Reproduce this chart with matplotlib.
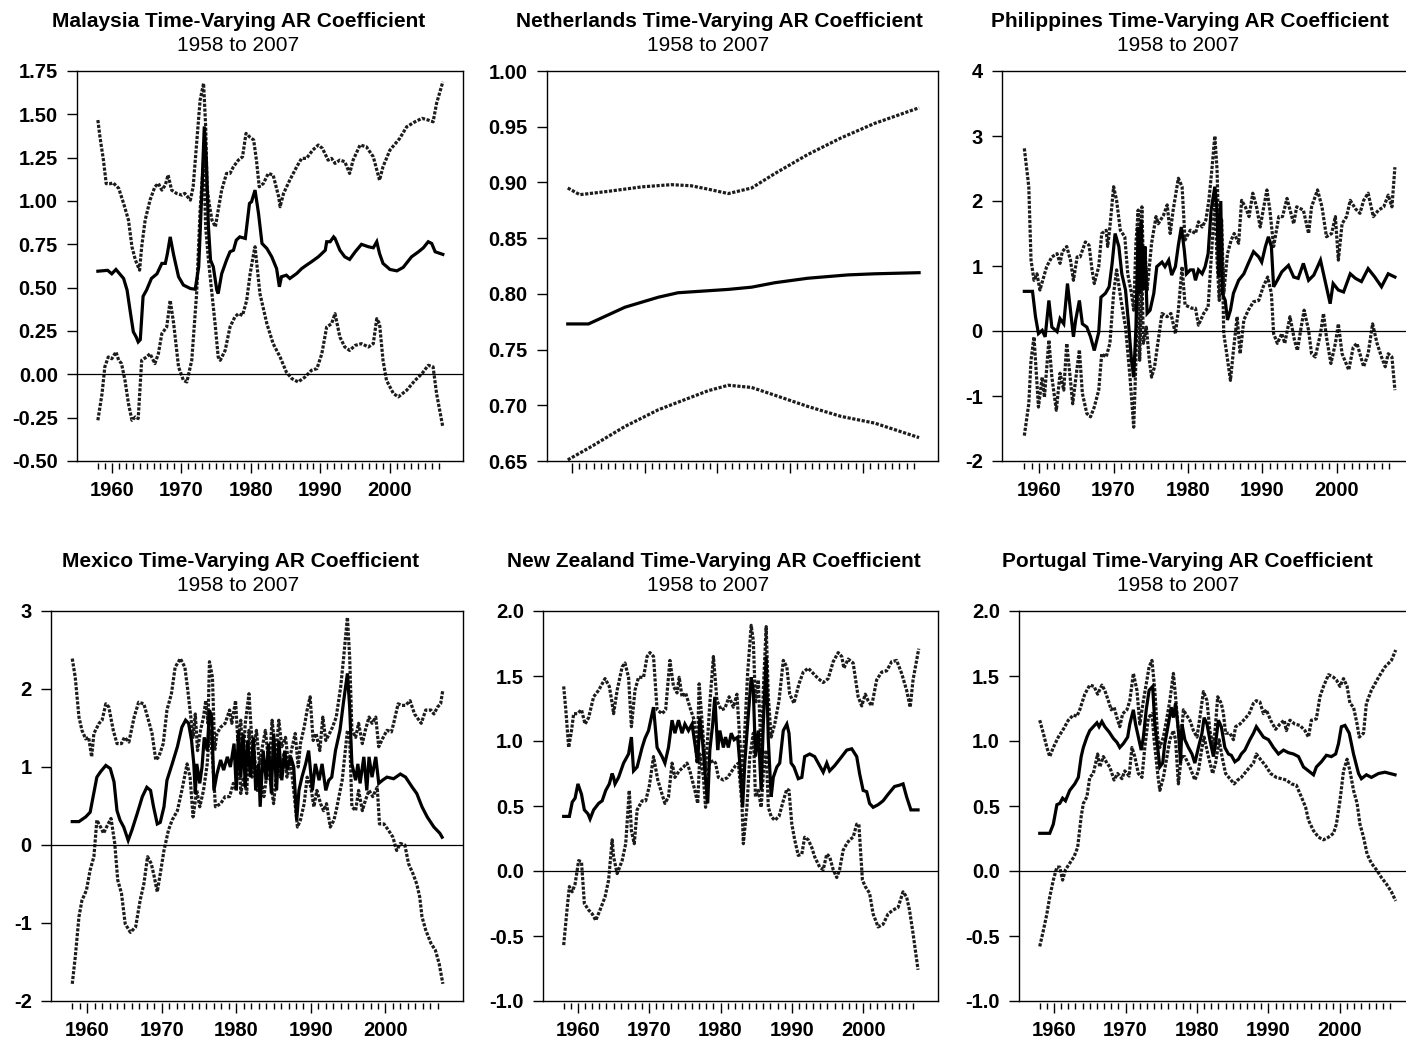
import matplotlib
matplotlib.use('Agg')
import matplotlib.pyplot as plt

plt.rcParams['font.family'] = ['Liberation Sans', 'DejaVu Sans']
plt.rcParams['axes.unicode_minus'] = False

# ---------------- data: (year, value) ----------------
MAL_AR = [(1958.0,0.595),(1959.4,0.60),(1960.0,0.58),(1960.6,0.605),(1961.7,0.553),(1962.2,0.486),(1962.7,0.35),(1963.1,0.245),(1963.5,0.216),(1963.8,0.187),(1964.1,0.20),(1964.5,0.45),(1965.0,0.486),(1965.7,0.553),(1966.5,0.58),(1967.2,0.64),(1967.7,0.64),(1968.0,0.697),(1968.4,0.793),(1968.9,0.688),(1969.6,0.563),(1970.3,0.515),(1971.3,0.495),(1972.0,0.491),(1972.5,0.62),(1972.9,1.005),(1973.3,1.43),(1973.6,1.236),(1973.9,0.85),(1974.2,0.659),(1974.6,0.62),(1975.1,0.486),(1975.3,0.466),(1975.8,0.58),(1976.5,0.659),(1977.0,0.707),(1977.5,0.716),(1977.9,0.774),(1978.4,0.793),(1979.2,0.784),(1979.8,0.986),(1980.1,0.996),(1980.6,1.063),(1981.1,0.928),(1981.6,0.755),(1982.3,0.726),(1983.0,0.678),(1983.7,0.61),(1984.1,0.505),(1984.4,0.563),(1985.1,0.572),(1985.6,0.553),(1986.6,0.582),(1987.3,0.61),(1988.0,0.63),(1988.7,0.649),(1989.7,0.678),(1990.7,0.716),(1990.9,0.765),(1991.4,0.765),(1991.9,0.793),(1992.1,0.784),(1992.8,0.716),(1993.5,0.678),(1994.2,0.663),(1995.0,0.707),(1995.9,0.75),(1996.9,0.736),(1997.6,0.73),(1998.1,0.765),(1998.5,0.697),(1999.0,0.64),(2000.0,0.605),(2001.0,0.597),(2001.9,0.617),(2003.1,0.678),(2004.1,0.707),(2004.8,0.73),(2005.5,0.765),(2006.0,0.755),(2006.5,0.707),(2007.6,0.692)]
MAL_UP = [(1958.0,1.467),(1958.3,1.37),(1958.8,1.236),(1959.2,1.10),(1959.8,1.10),(1960.2,1.105),(1961.0,1.073),(1961.7,0.986),(1962.4,0.89),(1962.9,0.736),(1963.4,0.659),(1964.0,0.601),(1964.3,0.736),(1964.8,0.89),(1965.5,1.005),(1966.2,1.082),(1966.7,1.101),(1967.2,1.063),(1967.7,1.092),(1968.1,1.15),(1968.6,1.063),(1969.3,1.044),(1970.1,1.034),(1970.5,1.044),(1971.3,1.005),(1971.7,1.082),(1972.2,1.332),(1972.7,1.582),(1973.2,1.679),(1973.5,1.428),(1973.7,1.082),(1974.0,0.986),(1974.4,0.89),(1974.9,0.851),(1975.3,0.947),(1975.8,1.063),(1976.5,1.159),(1977.0,1.159),(1977.5,1.198),(1978.2,1.236),(1978.8,1.255),(1979.3,1.39),(1979.9,1.367),(1980.4,1.352),(1980.8,1.236),(1981.2,1.082),(1981.8,1.101),(1982.5,1.159),(1983.2,1.15),(1984.0,1.024),(1984.2,0.967),(1984.7,1.044),(1985.6,1.121),(1986.6,1.198),(1987.3,1.246),(1988.0,1.246),(1988.9,1.294),(1989.7,1.323),(1990.3,1.303),(1991.1,1.236),(1991.6,1.246),(1992.1,1.217),(1992.8,1.236),(1993.5,1.227),(1994.2,1.159),(1994.7,1.236),(1995.7,1.323),(1996.6,1.313),(1997.6,1.255),(1998.5,1.12),(1999.0,1.198),(2000.0,1.294),(2001.4,1.361),(2002.4,1.428),(2003.6,1.457),(2004.6,1.477),(2005.5,1.467),(2006.2,1.457),(2006.7,1.563),(2007.6,1.688)]
MAL_LO = [(1958.0,-0.265),(1958.6,-0.111),(1959.0,0.043),(1959.5,0.10),(1960.0,0.09),(1960.6,0.129),(1961.0,0.081),(1961.4,0.062),(1961.9,-0.035),(1962.4,-0.169),(1962.9,-0.265),(1963.4,-0.246),(1963.8,-0.255),(1964.3,0.081),(1965.0,0.10),(1965.5,0.119),(1966.2,0.062),(1966.7,0.119),(1967.2,0.235),(1967.9,0.273),(1968.4,0.427),(1968.9,0.292),(1969.6,0.043),(1970.3,-0.035),(1970.8,-0.044),(1971.5,0.081),(1972.2,0.466),(1972.7,0.947),(1973.2,1.236),(1973.5,0.85),(1973.9,0.659),(1974.4,0.466),(1974.9,0.273),(1975.3,0.10),(1975.6,0.081),(1976.3,0.138),(1977.0,0.273),(1977.7,0.331),(1978.2,0.35),(1978.8,0.34),(1979.4,0.427),(1979.9,0.582),(1980.4,0.697),(1980.6,0.736),(1981.3,0.466),(1982.3,0.292),(1983.2,0.177),(1984.2,0.10),(1985.1,0.013),(1985.9,-0.025),(1986.8,-0.044),(1987.8,-0.015),(1988.7,0.023),(1989.5,0.033),(1990.2,0.119),(1990.9,0.273),(1991.6,0.292),(1992.1,0.35),(1992.8,0.215),(1993.5,0.158),(1994.2,0.138),(1995.0,0.167),(1995.9,0.177),(1996.9,0.158),(1997.6,0.177),(1998.1,0.321),(1998.5,0.292),(1999.0,0.081),(1999.5,-0.035),(2000.5,-0.111),(2001.2,-0.13),(2002.4,-0.092),(2003.6,-0.035),(2004.6,0.004),(2005.5,0.052),(2006.2,0.043),(2006.7,-0.111),(2007.6,-0.304)]

NLD_AR = [(1959.45,0.773),(1962.3,0.773),(1967.3,0.788),(1971.9,0.797),(1974.6,0.801),(1981.5,0.804),(1984.7,0.806),(1987.9,0.810),(1992.4,0.814),(1997.9,0.817),(2001.6,0.818),(2007.7,0.819)]
NLD_UP = [(1959.45,0.895),(1961.1,0.889),(1965.0,0.892),(1969.6,0.896),(1973.7,0.898),(1976.4,0.897),(1978.7,0.894),(1981.5,0.890),(1984.7,0.895),(1987.9,0.908),(1992.4,0.925),(1997.0,0.940),(2001.6,0.953),(2007.7,0.967)]
NLD_LO = [(1959.45,0.651),(1962.7,0.663),(1967.3,0.681),(1971.9,0.696),(1975.1,0.704),(1978.7,0.713),(1981.5,0.718),(1984.7,0.716),(1987.9,0.709),(1992.4,0.699),(1997.0,0.690),(2001.6,0.684),(2007.7,0.671)]

PHL_AR = [(1958.0,0.61),(1959.1,0.61),(1959.5,0.22),(1959.9,-0.04),(1960.4,0.01),(1960.8,-0.09),(1961.3,0.47),(1961.7,0.06),(1962.4,-0.01),(1962.8,0.19),(1963.3,0.11),(1963.8,0.73),(1964.2,0.32),(1964.6,-0.09),(1964.9,0.17),(1965.4,0.47),(1965.8,0.11),(1966.4,0.06),(1966.9,-0.09),(1967.4,-0.30),(1968.0,-0.02),(1968.3,0.52),(1968.9,0.58),(1969.4,0.68),(1969.8,1.04),(1970.2,1.50),(1970.7,1.30),(1971.1,0.88),(1971.6,0.63),(1972.0,0.12),(1972.4,-0.45),(1972.7,-0.71),(1973.0,0.06),(1973.3,1.60),(1973.5,0.58),(1973.7,1.71),(1974.0,0.63),(1974.2,1.30),(1974.5,0.27),(1974.9,0.32),(1975.4,0.58),(1975.8,0.99),(1976.5,1.06),(1976.9,0.99),(1977.4,1.09),(1977.8,0.86),(1978.3,0.99),(1978.7,1.32),(1979.1,1.60),(1979.5,1.24),(1979.8,0.88),(1980.3,0.94),(1980.7,0.94),(1981.0,0.78),(1981.4,0.94),(1981.9,0.88),(1982.3,0.99),(1982.7,1.19),(1983.1,1.86),(1983.6,2.22),(1983.9,1.86),(1984.1,0.83),(1984.4,2.0),(1984.6,0.58),(1985.0,0.47),(1985.3,0.17),(1985.7,0.32),(1986.1,0.58),(1986.8,0.78),(1987.5,0.88),(1988.1,1.04),(1988.8,1.22),(1989.5,1.14),(1989.9,1.06),(1990.4,1.30),(1990.8,1.45),(1991.2,1.30),(1991.5,0.68),(1992.0,0.78),(1992.6,0.91),(1993.5,1.01),(1994.2,0.83),(1994.8,0.81),(1995.5,1.04),(1996.2,0.78),(1996.9,0.86),(1997.8,1.09),(1998.4,0.78),(1999.1,0.42),(1999.5,0.73),(2000.2,0.63),(2000.9,0.60),(2001.8,0.88),(2002.5,0.81),(2003.3,0.76),(2004.2,0.96),(2005.1,0.83),(2006.0,0.68),(2006.9,0.88),(2007.8,0.83)]
PHL_UP = [(1958.0,2.81),(1958.6,2.22),(1958.9,1.09),(1959.3,0.78),(1959.7,0.88),(1960.1,0.63),(1960.6,0.83),(1961.0,0.99),(1961.7,1.14),(1962.4,1.19),(1962.8,1.04),(1963.1,1.22),(1963.7,1.30),(1964.2,1.09),(1964.6,0.78),(1965.1,1.14),(1965.5,1.14),(1966.2,1.37),(1966.7,1.32),(1967.1,0.94),(1967.4,0.73),(1968.0,0.99),(1968.4,1.50),(1969.0,1.55),(1969.2,1.30),(1969.5,1.60),(1970.0,2.22),(1970.4,2.01),(1970.9,1.55),(1971.5,1.45),(1971.9,0.88),(1972.4,0.58),(1972.7,0.32),(1973.0,1.35),(1973.3,1.86),(1973.5,1.19),(1973.8,1.91),(1974.0,0.99),(1974.2,1.30),(1974.5,0.63),(1974.8,0.99),(1975.1,1.35),(1975.7,1.76),(1976.0,1.65),(1976.7,1.78),(1977.2,1.94),(1977.6,1.50),(1978.0,1.86),(1978.7,2.35),(1979.2,2.22),(1979.6,1.40),(1980.3,1.55),(1981.0,1.50),(1981.4,1.68),(1981.9,1.60),(1982.4,1.71),(1982.8,2.01),(1983.2,2.48),(1983.6,3.00),(1983.9,2.48),(1984.2,1.09),(1984.5,1.71),(1984.8,0.58),(1985.3,1.19),(1985.8,1.40),(1986.2,1.50),(1986.8,1.35),(1987.2,2.01),(1987.7,1.91),(1988.2,1.76),(1988.7,2.12),(1989.2,1.91),(1989.7,1.60),(1990.1,1.86),(1990.6,2.17),(1991.0,1.86),(1991.5,1.30),(1992.2,1.76),(1992.7,1.76),(1993.3,2.04),(1994.2,1.65),(1994.6,1.91),(1995.5,1.86),(1996.2,1.50),(1996.6,1.91),(1997.4,2.17),(1998.0,1.91),(1998.6,1.45),(1999.3,1.50),(1999.8,1.76),(2000.2,1.09),(2000.7,1.65),(2001.3,1.76),(2001.8,2.01),(2002.5,1.88),(2003.1,1.81),(2003.6,2.01),(2004.2,2.12),(2004.9,1.76),(2005.6,1.86),(2006.3,1.91),(2006.9,2.09),(2007.4,1.91),(2007.8,2.52)]
PHL_LO = [(1958.0,-1.61),(1958.6,-1.12),(1958.9,-0.45),(1959.3,-0.09),(1959.5,-0.45),(1959.9,-1.17),(1960.4,-0.71),(1960.7,-1.02),(1961.3,-0.14),(1961.7,-0.71),(1962.3,-1.22),(1962.8,-0.65),(1963.3,-0.91),(1963.7,-0.19),(1964.2,-0.76),(1964.5,-1.12),(1965.0,-0.65),(1965.4,-0.29),(1965.8,-0.96),(1966.4,-1.27),(1966.9,-1.32),(1967.4,-1.17),(1968.0,-0.91),(1968.4,-0.35),(1969.0,-0.40),(1969.5,-0.19),(1970.0,0.58),(1970.4,0.94),(1971.0,0.47),(1971.6,0.06),(1972.2,-0.71),(1972.7,-1.48),(1973.0,-0.45),(1973.3,1.09),(1973.5,-0.45),(1973.8,0.88),(1974.0,-0.19),(1974.4,0.06),(1974.8,-0.45),(1975.1,-0.71),(1975.5,-0.55),(1976.0,-0.14),(1976.5,0.27),(1977.2,0.22),(1977.7,0.27),(1978.3,-0.04),(1978.7,0.32),(1979.2,0.99),(1979.6,0.40),(1980.5,0.35),(1981.0,0.35),(1981.4,0.09),(1982.1,0.27),(1982.7,0.37),(1983.1,1.09),(1983.6,2.01),(1983.9,1.09),(1984.2,0.47),(1984.5,1.71),(1984.8,-0.04),(1985.2,-0.35),(1985.7,-0.76),(1986.1,-0.30),(1986.6,0.22),(1987.0,-0.35),(1987.5,0.17),(1988.1,0.32),(1988.8,0.45),(1989.5,0.47),(1990.1,0.68),(1990.7,0.83),(1991.2,0.58),(1991.5,-0.04),(1992.0,-0.19),(1992.6,-0.04),(1993.0,-0.19),(1993.7,0.22),(1994.3,-0.14),(1994.7,-0.30),(1995.2,0.06),(1995.6,0.32),(1996.2,0.01),(1996.6,-0.35),(1997.1,-0.40),(1997.8,-0.04),(1998.2,0.27),(1998.6,-0.09),(1999.2,-0.50),(1999.8,-0.19),(2000.2,0.11),(2000.7,-0.35),(2001.6,-0.60),(2002.2,-0.25),(2002.7,-0.19),(2003.6,-0.55),(2004.2,-0.35),(2004.8,0.11),(2005.4,-0.19),(2006.0,-0.40),(2006.5,-0.55),(2006.9,-0.35),(2007.4,-0.40),(2007.8,-0.91)]

MEX_AR = [(1958.0,0.30),(1958.9,0.30),(1959.8,0.36),(1960.4,0.42),(1960.8,0.62),(1961.3,0.87),(1961.8,0.94),(1962.5,1.02),(1963.1,0.98),(1963.6,0.81),(1964.0,0.44),(1964.4,0.32),(1964.9,0.23),(1965.5,0.06),(1966.0,0.19),(1966.7,0.40),(1967.4,0.62),(1968.0,0.74),(1968.5,0.70),(1968.9,0.49),(1969.4,0.27),(1969.8,0.29),(1970.3,0.49),(1970.7,0.83),(1971.4,1.04),(1972.1,1.26),(1972.7,1.51),(1973.2,1.60),(1973.6,1.56),(1974.0,1.34),(1974.3,1.04),(1974.5,0.66),(1974.7,1.04),(1975.1,0.79),(1975.4,1.00),(1975.7,1.38),(1976.1,1.21),(1976.4,1.73),(1976.7,1.64),(1977.0,0.70),(1977.4,0.91),(1977.9,1.09),(1978.3,0.96),(1978.8,1.13),(1979.2,1.00),(1979.7,1.30),(1980.0,0.70),(1980.3,1.47),(1980.6,0.87),(1980.9,1.43),(1981.2,0.74),(1981.5,1.34),(1981.9,0.87),(1982.3,1.38),(1982.6,0.70),(1983.0,1.04),(1983.2,0.49),(1983.6,1.21),(1984.0,0.83),(1984.3,1.30),(1984.7,0.66),(1985.0,1.43),(1985.4,0.70),(1985.7,1.34),(1986.1,0.83),(1986.5,1.21),(1986.8,0.96),(1987.3,1.13),(1987.7,1.00),(1988.1,0.32),(1988.4,0.70),(1988.8,0.87),(1989.3,1.04),(1989.7,1.21),(1990.2,0.70),(1990.6,1.04),(1991.1,0.83),(1991.5,1.04),(1992.0,0.70),(1992.4,0.83),(1992.8,0.87),(1993.3,1.21),(1993.9,1.47),(1994.4,1.85),(1994.9,2.20),(1995.2,1.77),(1995.5,1.04),(1996.0,0.83),(1996.3,1.04),(1996.6,0.79),(1997.1,1.13),(1997.5,0.70),(1997.8,1.13),(1998.2,0.87),(1998.7,1.13),(1999.1,0.79),(1999.6,0.83),(2000.2,0.87),(2001.1,0.85),(2002.0,0.91),(2002.7,0.87),(2003.6,0.74),(2004.2,0.66),(2004.9,0.49),(2005.6,0.36),(2006.5,0.23),(2007.3,0.15),(2007.6,0.10)]
MEX_UP = [(1958.0,2.39),(1958.4,2.15),(1958.9,1.64),(1959.3,1.47),(1959.8,1.36),(1960.2,1.38),(1960.6,1.13),(1960.9,1.43),(1961.6,1.56),(1962.0,1.60),(1962.5,1.81),(1962.9,1.77),(1963.5,1.47),(1964.0,1.30),(1964.6,1.30),(1965.0,1.38),(1965.6,1.32),(1966.3,1.64),(1966.9,1.83),(1967.6,1.81),(1968.1,1.64),(1968.7,1.43),(1969.2,1.09),(1969.6,1.13),(1970.2,1.30),(1970.7,1.73),(1971.3,1.94),(1971.8,2.28),(1972.5,2.39),(1973.1,2.28),(1973.5,1.98),(1973.9,1.64),(1974.2,1.38),(1974.5,1.68),(1974.8,1.21),(1975.2,1.47),(1975.6,1.64),(1975.9,1.85),(1976.2,1.56),(1976.4,2.35),(1976.8,2.15),(1977.1,1.21),(1977.4,1.43),(1977.9,1.51),(1978.5,1.56),(1979.1,1.73),(1979.4,1.56),(1979.9,1.85),(1980.2,1.34),(1980.6,1.60),(1980.9,1.04),(1981.2,1.56),(1981.7,1.94),(1982.0,1.47),(1982.3,1.21),(1982.7,1.47),(1983.1,1.04),(1983.5,1.26),(1983.9,1.47),(1984.4,1.00),(1984.8,1.60),(1985.3,1.13),(1985.7,1.60),(1986.1,1.26),(1986.6,1.38),(1987.0,1.04),(1987.5,1.26),(1987.9,1.43),(1988.3,1.00),(1988.6,1.30),(1989.1,1.51),(1989.5,1.73),(1989.9,1.90),(1990.3,1.34),(1990.7,1.43),(1991.2,1.21),(1991.6,1.64),(1992.0,1.34),(1992.5,1.43),(1992.9,1.51),(1993.4,1.64),(1994.0,2.03),(1994.4,2.41),(1994.9,2.92),(1995.2,2.41),(1995.5,1.47),(1996.0,1.38),(1996.4,1.56),(1996.9,1.30),(1997.3,1.47),(1997.8,1.64),(1998.2,1.56),(1998.7,1.64),(1999.1,1.26),(1999.7,1.38),(2000.2,1.47),(2000.8,1.45),(2001.1,1.56),(2001.7,1.81),(2002.2,1.79),(2002.7,1.79),(2003.3,1.85),(2003.9,1.68),(2004.5,1.60),(2004.8,1.56),(2005.4,1.73),(2006.1,1.73),(2006.5,1.68),(2007.0,1.77),(2007.4,1.81),(2007.7,1.99)]
MEX_LO = [(1958.0,-1.78),(1958.4,-1.44),(1958.9,-0.92),(1959.3,-0.71),(1959.9,-0.58),(1960.4,-0.32),(1960.9,-0.15),(1961.3,0.32),(1961.8,0.23),(1962.2,0.15),(1962.7,0.25),(1963.2,0.34),(1963.7,0.02),(1964.1,-0.45),(1964.6,-0.62),(1965.1,-1.01),(1965.8,-1.12),(1966.5,-1.05),(1967.1,-0.71),(1967.6,-0.50),(1968.1,-0.15),(1968.6,-0.24),(1969.0,-0.41),(1969.4,-0.60),(1969.8,-0.37),(1970.3,-0.07),(1970.9,0.19),(1971.4,0.32),(1972.1,0.44),(1972.7,0.70),(1973.4,1.04),(1973.8,0.87),(1974.2,0.36),(1974.7,0.70),(1975.1,0.49),(1975.6,0.70),(1976.1,1.04),(1976.4,1.47),(1976.8,1.13),(1977.2,0.49),(1977.9,0.53),(1978.5,0.62),(1979.1,0.62),(1979.6,0.79),(1980.0,0.70),(1980.3,1.34),(1980.6,0.66),(1981.0,0.87),(1981.4,0.66),(1981.7,1.47),(1982.1,0.87),(1982.4,1.21),(1982.8,0.70),(1983.2,0.87),(1983.7,0.62),(1984.1,0.91),(1984.6,0.83),(1985.0,0.53),(1985.5,1.04),(1985.9,0.87),(1986.4,1.17),(1986.8,0.87),(1987.3,1.04),(1987.7,0.70),(1988.2,0.23),(1988.6,0.32),(1989.1,0.53),(1989.5,0.87),(1990.0,0.74),(1990.4,0.49),(1990.8,0.70),(1991.3,0.53),(1991.7,0.44),(1992.1,0.53),(1992.6,0.23),(1993.1,0.32),(1993.5,0.49),(1994.2,0.83),(1994.9,1.47),(1995.2,1.38),(1995.5,0.49),(1996.0,0.44),(1996.4,0.70),(1996.9,0.44),(1997.3,0.57),(1997.8,0.70),(1998.3,0.62),(1998.9,0.74),(1999.2,0.27),(1999.8,0.27),(2000.4,0.19),(2001.0,0.10),(2001.5,-0.07),(2002.0,0.02),(2002.6,0.0),(2003.1,-0.24),(2003.7,-0.37),(2004.2,-0.50),(2004.6,-0.67),(2004.9,-0.92),(2005.4,-1.09),(2006.1,-1.26),(2006.7,-1.35),(2007.2,-1.52),(2007.7,-1.78)]

NZL_AR = [(1958.0,0.42),(1958.8,0.42),(1959.2,0.53),(1959.6,0.56),(1960.0,0.67),(1960.5,0.59),(1960.9,0.47),(1961.4,0.44),(1961.7,0.40),(1962.2,0.47),(1962.9,0.52),(1963.4,0.54),(1963.9,0.62),(1964.4,0.67),(1964.8,0.75),(1965.0,0.72),(1965.2,0.67),(1965.7,0.72),(1966.4,0.83),(1967.1,0.90),(1967.5,1.03),(1967.8,0.77),(1968.3,0.80),(1969.0,0.95),(1969.4,1.02),(1969.9,1.08),(1970.6,1.26),(1971.1,0.95),(1971.8,0.88),(1972.2,0.83),(1972.7,0.95),(1973.2,1.16),(1973.6,1.06),(1974.1,1.16),(1974.6,1.06),(1975.0,1.13),(1975.5,1.08),(1976.0,1.13),(1976.4,0.98),(1976.8,0.83),(1977.1,1.18),(1977.5,0.98),(1977.8,0.77),(1978.2,0.52),(1978.5,0.93),(1978.9,1.13),(1979.2,1.34),(1979.6,0.93),(1979.9,1.08),(1980.4,0.95),(1980.7,1.03),(1981.1,0.95),(1981.5,1.06),(1981.9,1.01),(1982.4,1.03),(1982.7,0.83),(1983.1,0.49),(1983.4,0.83),(1983.8,1.13),(1984.3,1.49),(1984.6,1.39),(1984.9,0.88),(1985.3,1.08),(1985.7,0.62),(1986.0,1.13),(1986.4,1.65),(1986.7,1.01),(1987.1,0.57),(1987.4,0.72),(1987.9,0.80),(1988.3,0.83),(1988.8,1.08),(1989.3,1.13),(1989.6,1.06),(1989.9,0.83),(1990.3,0.80),(1990.9,0.71),(1991.4,0.72),(1991.8,0.88),(1992.5,0.90),(1993.2,0.88),(1993.9,0.81),(1994.4,0.76),(1994.9,0.83),(1995.3,0.77),(1996.0,0.81),(1997.0,0.88),(1997.7,0.93),(1998.4,0.94),(1999.1,0.88),(1999.5,0.75),(2000.0,0.62),(2000.5,0.61),(2000.9,0.52),(2001.4,0.49),(2002.1,0.51),(2002.8,0.54),(2003.5,0.59),(2004.4,0.65),(2005.1,0.66),(2005.6,0.67),(2006.1,0.57),(2006.7,0.47),(2007.7,0.47)]
NZL_UP = [(1958.0,1.42),(1958.3,1.24),(1958.7,0.95),(1959.1,1.08),(1959.4,1.21),(1959.9,1.21),(1960.5,1.24),(1961.0,1.13),(1961.5,1.18),(1962.2,1.34),(1962.9,1.39),(1963.8,1.48),(1964.4,1.42),(1964.8,1.29),(1965.0,1.21),(1965.5,1.39),(1966.2,1.57),(1966.6,1.60),(1967.1,1.49),(1967.5,1.11),(1968.0,1.39),(1968.5,1.49),(1969.2,1.49),(1969.7,1.65),(1970.1,1.68),(1970.6,1.65),(1971.1,1.24),(1971.8,1.21),(1972.3,1.24),(1972.9,1.62),(1973.4,1.42),(1973.9,1.37),(1974.2,1.49),(1974.6,1.34),(1975.1,1.37),(1975.7,1.26),(1976.3,1.16),(1976.7,0.83),(1977.0,1.44),(1977.5,1.08),(1977.9,0.77),(1978.5,1.29),(1979.0,1.65),(1979.5,1.31),(1980.1,1.24),(1980.6,1.25),(1981.2,1.34),(1981.8,1.26),(1982.3,1.36),(1982.7,1.01),(1983.1,0.72),(1983.4,1.08),(1983.8,1.52),(1984.3,1.89),(1984.6,1.77),(1984.9,1.29),(1985.3,1.47),(1985.7,0.88),(1986.0,1.39),(1986.4,1.88),(1986.7,1.34),(1987.1,1.03),(1987.6,1.13),(1988.2,1.31),(1988.8,1.62),(1989.3,1.57),(1989.7,1.36),(1990.3,1.29),(1991.0,1.44),(1991.6,1.53),(1992.3,1.56),(1993.0,1.52),(1993.7,1.48),(1994.4,1.45),(1995.1,1.48),(1995.8,1.61),(1996.5,1.68),(1997.0,1.65),(1997.3,1.56),(1997.9,1.63),(1998.6,1.60),(1999.3,1.34),(1999.8,1.27),(2000.3,1.36),(2000.7,1.31),(2001.2,1.27),(2001.9,1.47),(2002.6,1.53),(2003.3,1.54),(2004.0,1.61),(2004.7,1.62),(2005.4,1.52),(2006.1,1.39),(2006.6,1.26),(2007.0,1.47),(2007.8,1.71)]
NZL_LO = [(1958.0,-0.57),(1958.5,-0.28),(1958.8,-0.12),(1959.2,-0.16),(1959.6,-0.10),(1960.1,0.08),(1960.5,0.07),(1960.9,-0.25),(1961.5,-0.30),(1962.0,-0.33),(1962.5,-0.38),(1963.1,-0.30),(1963.8,-0.20),(1964.3,-0.07),(1964.8,0.24),(1965.0,0.11),(1965.5,-0.02),(1966.2,0.08),(1966.7,0.21),(1967.2,0.62),(1967.5,0.31),(1967.9,0.21),(1968.3,0.47),(1969.0,0.54),(1969.5,0.54),(1970.0,0.65),(1970.6,0.88),(1971.2,0.70),(1971.8,0.59),(1972.2,0.52),(1972.7,0.57),(1973.2,0.83),(1973.6,0.72),(1974.2,0.77),(1974.8,0.80),(1975.3,0.83),(1975.7,0.77),(1976.4,0.62),(1976.8,0.52),(1977.1,0.90),(1977.6,0.72),(1977.9,0.49),(1978.4,0.83),(1979.0,0.85),(1979.3,0.83),(1979.7,0.72),(1980.4,0.70),(1981.0,0.72),(1981.6,0.77),(1982.1,0.81),(1982.5,0.83),(1983.0,0.52),(1983.2,0.21),(1983.7,0.49),(1984.1,0.88),(1984.6,1.06),(1984.9,0.57),(1985.3,0.62),(1985.7,0.49),(1986.0,0.75),(1986.4,0.93),(1986.7,0.49),(1987.1,0.42),(1987.6,0.39),(1988.2,0.42),(1988.8,0.54),(1989.3,0.63),(1989.6,0.62),(1990.0,0.36),(1990.4,0.24),(1990.9,0.12),(1991.4,0.13),(1991.8,0.26),(1992.3,0.24),(1992.8,0.18),(1993.2,0.11),(1993.9,0.03),(1994.4,0.01),(1994.9,0.13),(1995.3,0.11),(1995.8,0.01),(1996.3,-0.05),(1996.7,0.01),(1997.2,0.16),(1997.7,0.21),(1998.1,0.24),(1998.6,0.26),(1999.1,0.36),(1999.4,0.36),(1999.9,-0.07),(2000.3,-0.12),(2000.9,-0.17),(2001.4,-0.33),(2002.1,-0.43),(2002.8,-0.41),(2003.5,-0.33),(2004.2,-0.30),(2004.9,-0.28),(2005.6,-0.16),(2006.1,-0.20),(2006.5,-0.30),(2007.0,-0.48),(2007.7,-0.76)]

PRT_AR = [(1958.0,0.29),(1959.4,0.29),(1959.9,0.36),(1960.4,0.51),(1960.8,0.52),(1961.2,0.56),(1961.6,0.54),(1962.2,0.62),(1962.9,0.67),(1963.4,0.72),(1963.8,0.88),(1964.1,0.95),(1964.6,1.03),(1965.0,1.08),(1965.5,1.11),(1966.0,1.14),(1966.3,1.11),(1966.7,1.15),(1967.1,1.11),(1967.7,1.07),(1968.3,1.02),(1968.8,0.99),(1969.2,0.95),(1969.7,0.98),(1970.3,1.03),(1970.6,1.13),(1971.1,1.24),(1971.4,1.13),(1971.8,1.03),(1972.2,0.93),(1972.5,1.03),(1972.9,1.24),(1973.3,1.39),(1973.8,1.42),(1974.1,1.13),(1974.5,0.95),(1974.8,0.80),(1975.2,0.83),(1975.5,0.98),(1976.0,1.13),(1976.4,1.26),(1976.7,1.18),(1977.0,1.29),(1977.4,1.08),(1977.7,0.83),(1977.9,1.13),(1978.3,1.01),(1978.8,0.95),(1979.3,0.90),(1979.7,0.83),(1980.2,0.95),(1980.7,1.06),(1981.0,1.18),(1981.4,1.13),(1981.8,1.01),(1982.3,0.88),(1982.6,0.98),(1983.0,1.16),(1983.4,1.11),(1983.9,0.95),(1984.4,0.90),(1984.8,0.89),(1985.3,0.84),(1985.8,0.86),(1986.2,0.90),(1986.7,0.93),(1987.4,1.01),(1987.9,1.06),(1988.3,1.11),(1988.8,1.07),(1989.3,1.03),(1990.0,1.01),(1990.7,0.95),(1991.4,0.90),(1992.1,0.93),(1992.8,0.91),(1993.5,0.90),(1994.2,0.88),(1994.9,0.80),(1995.6,0.77),(1996.3,0.74),(1996.7,0.80),(1997.4,0.84),(1998.1,0.89),(1998.8,0.88),(1999.4,0.90),(1999.8,0.98),(2000.2,1.11),(2000.7,1.12),(2001.3,1.06),(2001.9,0.90),(2002.6,0.75),(2003.0,0.71),(2003.7,0.74),(2004.4,0.72),(2005.4,0.75),(2006.3,0.76),(2007.0,0.75),(2007.7,0.74)]
PRT_UP = [(1958.0,1.16),(1958.5,1.06),(1959.0,0.95),(1959.4,0.88),(1959.9,0.95),(1960.6,1.03),(1961.3,1.09),(1962.0,1.16),(1962.7,1.20),(1963.2,1.19),(1963.6,1.24),(1964.3,1.36),(1965.0,1.43),(1965.6,1.42),(1966.1,1.36),(1966.7,1.43),(1967.1,1.39),(1967.6,1.31),(1968.0,1.24),(1968.4,1.26),(1968.8,1.18),(1969.2,1.11),(1969.6,1.21),(1970.2,1.24),(1970.6,1.31),(1971.1,1.52),(1971.6,1.39),(1972.0,1.13),(1972.5,1.31),(1973.0,1.47),(1973.3,1.57),(1973.7,1.62),(1974.1,1.39),(1974.5,1.03),(1974.8,0.95),(1975.3,1.03),(1975.8,1.18),(1976.2,1.31),(1976.7,1.52),(1977.0,1.34),(1977.4,1.08),(1977.7,0.95),(1978.1,1.24),(1978.4,1.21),(1979.0,1.16),(1979.5,1.08),(1980.0,1.03),(1980.4,1.18),(1980.9,1.38),(1981.4,1.31),(1981.8,1.08),(1982.3,0.95),(1982.6,1.13),(1982.9,1.34),(1983.4,1.29),(1983.7,1.21),(1984.0,1.06),(1984.6,1.06),(1985.1,1.01),(1985.4,1.11),(1986.0,1.13),(1986.7,1.17),(1987.3,1.21),(1987.9,1.29),(1988.3,1.31),(1988.8,1.30),(1989.3,1.21),(1989.7,1.24),(1990.3,1.16),(1991.0,1.09),(1991.6,1.13),(1992.2,1.16),(1992.5,1.08),(1993.0,1.16),(1993.7,1.13),(1994.4,1.12),(1995.1,1.08),(1995.6,1.03),(1996.0,1.16),(1996.7,1.17),(1997.2,1.34),(1997.7,1.42),(1998.4,1.51),(1999.1,1.49),(1999.5,1.47),(2000.0,1.42),(2000.5,1.48),(2001.0,1.42),(2001.4,1.29),(2001.9,1.26),(2002.4,1.13),(2002.7,1.03),(2003.3,1.06),(2003.7,1.29),(2004.4,1.39),(2005.4,1.49),(2006.3,1.57),(2007.2,1.62),(2007.8,1.70)]
PRT_LO = [(1958.0,-0.58),(1958.5,-0.46),(1959.0,-0.33),(1959.4,-0.20),(1959.9,-0.07),(1960.4,0.03),(1960.8,0.03),(1961.2,-0.07),(1961.6,0.01),(1962.2,0.06),(1962.8,0.11),(1963.3,0.18),(1963.8,0.42),(1964.1,0.52),(1964.6,0.57),(1965.0,0.72),(1965.5,0.75),(1966.1,0.90),(1966.4,0.80),(1966.9,0.88),(1967.4,0.83),(1967.8,0.80),(1968.4,0.70),(1968.9,0.75),(1969.5,0.71),(1969.9,0.77),(1970.5,0.73),(1970.9,0.95),(1971.3,0.88),(1971.8,0.75),(1972.3,0.72),(1972.7,0.95),(1973.2,1.18),(1973.7,1.21),(1974.0,1.01),(1974.5,0.75),(1974.8,0.62),(1975.3,0.72),(1975.8,0.88),(1976.2,1.01),(1976.7,1.08),(1977.0,1.01),(1977.4,0.67),(1977.8,0.88),(1978.3,0.88),(1979.0,0.80),(1979.7,0.70),(1980.2,0.77),(1980.7,0.95),(1981.0,1.03),(1981.6,0.88),(1982.2,0.75),(1982.6,0.83),(1983.1,1.01),(1983.5,0.88),(1984.0,0.75),(1984.6,0.71),(1985.2,0.67),(1985.7,0.70),(1986.2,0.72),(1986.8,0.76),(1987.4,0.80),(1987.9,0.83),(1988.3,0.90),(1989.0,0.85),(1989.6,0.81),(1990.3,0.75),(1991.1,0.72),(1991.8,0.71),(1992.5,0.70),(1993.2,0.67),(1993.9,0.66),(1994.6,0.57),(1995.2,0.49),(1995.6,0.39),(1996.3,0.31),(1997.0,0.26),(1997.7,0.24),(1998.4,0.26),(1999.1,0.29),(1999.5,0.36),(2000.0,0.54),(2000.5,0.77),(2001.0,0.86),(2001.4,0.77),(2001.9,0.62),(2002.4,0.52),(2002.8,0.36),(2003.3,0.26),(2003.8,0.13),(2004.4,0.06),(2005.1,0.01),(2005.8,-0.05),(2006.5,-0.10),(2007.2,-0.16),(2007.8,-0.23)]

TITLES = ["Malaysia", "Netherlands", "Philippines", "Mexico", "New Zealand", "Portugal"]
SUBTITLE = "1958 to 2007"
Y_TICKS = [
    [-0.50, -0.25, 0.00, 0.25, 0.50, 0.75, 1.00, 1.25, 1.50, 1.75],
    [0.65, 0.70, 0.75, 0.80, 0.85, 0.90, 0.95, 1.00],
    [-2, -1, 0, 1, 2, 3, 4],
    [-2, -1, 0, 1, 2, 3],
    [-1.0, -0.5, 0.0, 0.5, 1.0, 1.5, 2.0],
    [-1.0, -0.5, 0.0, 0.5, 1.0, 1.5, 2.0],
]
Y_FMT = ["%.2f", "%.2f", "%d", "%d", "%.1f", "%.1f"]

SERIES = [(MAL_AR, MAL_UP, MAL_LO), (NLD_AR, NLD_UP, NLD_LO), (PHL_AR, PHL_UP, PHL_LO),
          (MEX_AR, MEX_UP, MEX_LO), (NZL_AR, NZL_UP, NZL_LO), (PRT_AR, PRT_UP, PRT_LO)]

# ---------------- layout (pixels) ----------------
W, H = 1406, 1042
fig = plt.figure(figsize=(W / 100, H / 100), dpi=100)
fig.patch.set_facecolor('white')

def rect(l, t, r, b):
    return [l / W, 1 - b / H, (r - l) / W, (b - t) / H]

BOXES = [(77, 71, 463, 461), (547, 71, 938, 461), (1002, 71, 1415, 461),
         (51, 611, 463, 1001), (543, 611, 938, 1001), (1019, 611, 1415, 1001)]
XLIMS = [(1955.0, 2010.5), (1956.6, 2010.3), (1955.0, 2010.5),
         (1955.15, 2010.4), (1955.1, 2010.5), (1955.1, 2010.5)]
T1_X = [239, 719, 1190, 241, 714, 1187]
T2_X = [238, 708, 1178, 238, 708, 1178]
T1_Y = [27.0, 27.0, 27.0, 567.0, 567.0, 567.0]
T2_Y = [51.0, 51.0, 51.0, 591.0, 591.0, 591.0]

FS_TICK = 14.5
FS_TITLE = 15.0
DOT = (0, (1.0, 0.5))

for i in range(6):
    ar, up, lo = SERIES[i]
    ax = fig.add_axes(rect(*BOXES[i]))
    for s in ax.spines.values():
        s.set_linewidth(1.0)
        s.set_color('black')
    for band in (up, lo):
        xs, ys = zip(*band)
        ax.plot(xs, ys, color='#1c1c1c', lw=2.3, ls=DOT, dash_capstyle='butt')
    xs, ys = zip(*ar)
    ax.plot(xs, ys, color='black', lw=2.3, solid_joinstyle='miter')
    yt = Y_TICKS[i]
    ax.set_ylim(yt[0], yt[-1])
    ax.set_xlim(*XLIMS[i])
    if yt[0] < 0 < yt[-1]:
        ax.axhline(0, color='black', lw=0.9)
    ax.set_yticks(yt)
    ax.set_yticklabels([Y_FMT[i] % v for v in yt], fontsize=FS_TICK, fontweight='bold')
    ax.tick_params(axis='y', direction='out', length=7.3, width=1.0, pad=6.5)
    ax.tick_params(axis='x', which='both', bottom=False, labelbottom=False)

    sec = ax.secondary_xaxis(-0.006)
    for s in sec.spines.values():
        s.set_visible(False)
    if i == 1:
        years = list(range(1960, 2008))
    else:
        years = list(range(1958, 2008))
    major = [y for y in years if y % 10 == 0]
    minor = [y for y in years if y % 10 != 0]
    sec.set_xticks(major)
    sec.set_xticks(minor, minor=True)
    if i == 1:
        sec.set_xticklabels([''] * len(major))
    else:
        sec.set_xticklabels([str(y) for y in major], fontsize=FS_TICK, fontweight='bold')
    sec.tick_params(which='major', direction='out', length=7.5, width=1.0, pad=5)
    sec.tick_params(which='minor', direction='out', length=4.0, width=1.0)

    fig.text(T1_X[i] / W, 1 - T1_Y[i] / H, TITLES[i] + " Time-Varying AR Coefficient",
             ha='center', va='baseline', fontsize=FS_TITLE, fontweight='bold')
    fig.text(T2_X[i] / W, 1 - T2_Y[i] / H, SUBTITLE,
             ha='center', va='baseline', fontsize=FS_TITLE)

fig.savefig('out.png', dpi=100)
